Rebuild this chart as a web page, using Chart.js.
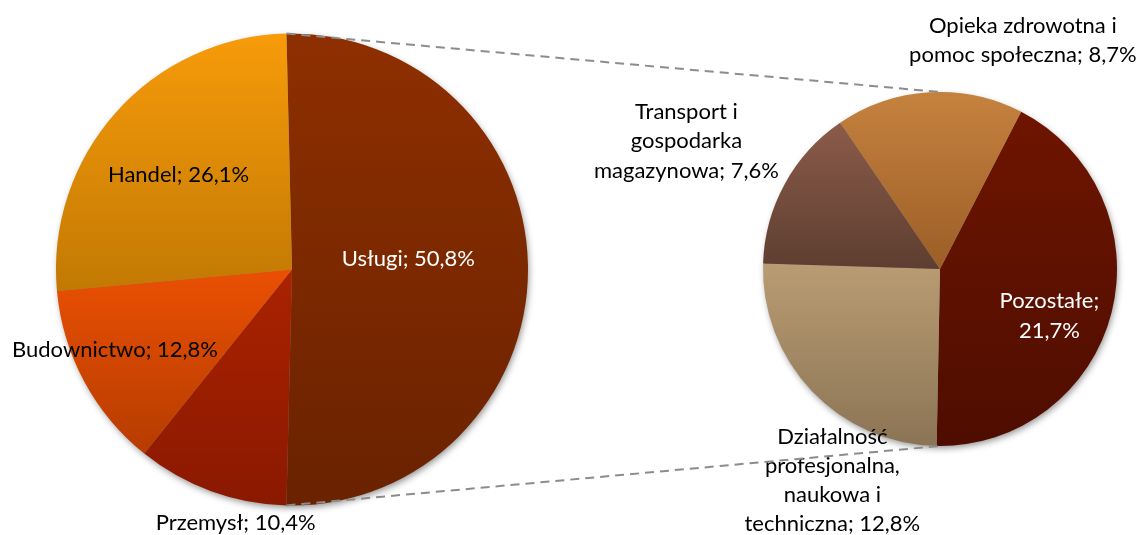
<!DOCTYPE html>
<html lang="pl">
<head>
<meta charset="utf-8">
<script src="https://cdn.jsdelivr.net/npm/chart.js@4/dist/chart.umd.min.js"></script>
<style>
    body { margin: 0; background: #fff; }
    .wrap { position: relative; width: 1137px; height: 535px; }
    .wrap canvas { position: absolute; left: 0; top: 0; }
</style>
</head>
<body>
<div class="wrap">
    <canvas id="mainPie" width="1137" height="535"></canvas>
    <canvas id="detailPie" width="1137" height="535"></canvas>
</div>
<script>
// Data: main pie and the split of "Usługi" shown in the second pie
const mainCategories = ['Usługi', 'Przemysł', 'Budownictwo', 'Handel'];
const mainValues = [50.8, 10.4, 12.8, 26.1];

const detailCategories = ['Pozostałe', 'Działalność profesjonalna, naukowa i techniczna', 'Transport i gospodarka magazynowa', 'Opieka zdrowotna i pomoc społeczna'];
const detailValues = [21.7, 12.8, 7.6, 8.7];

// Styles (top colour / bottom colour of each slice gradient)
const mainTop = ['#8e2f00', '#ab2200', '#ea5003', '#f79b0a'];
const mainBottom = ['#6a2200', '#8a1900', '#b63c00', '#c27903'];
const detailTop = ['#6e1500', '#b99c73', '#8b5b4a', '#c5823f'];
const detailBottom = ['#4e0d00', '#8b7455', '#5d3e30', '#9c5e27'];

const mainLabelColors = ['#fff', '#000', '#000', '#000'];
const detailLabelColors = ['#fff', '#000', '#000', '#000'];
// words per line for each label
const mainLabelWrap = [[3], [3], [3], [3]];
const detailLabelWrap = [[1, 1], [1, 1, 2, 2], [2, 1, 2], [3, 3]];
// label anchor (centre x, first baseline) relative to pie centre, in radii
const mainLabelPos = [[0.493, -0.016], [-0.239, 1.104], [-0.750, 0.369], [-0.481, -0.372]];
const detailLabelPos = [[0.618, 0.222], [-0.608, 0.986], [-1.433, -0.848], [0.468, -1.335]];

const FONT = '22px Lato';
const LINE_H = 29.3;

const fmt = v => v.toFixed(1).replace('.', ',') + '%';

// vertical gradient spanning only the slice's own extent
function sliceGradient(context, tops, bottoms) {
    const chart = context.chart;
    const area = chart.chartArea;
    const i = context.dataIndex;
    if (!area) return tops[i];
    const data = context.dataset.data;
    const total = data.reduce((a, b) => a + b, 0);
    const cx = (area.left + area.right) / 2;
    const cy = (area.top + area.bottom) / 2;
    const r = Math.min(area.width, area.height) / 2;
    let before = 0;
    for (let k = 0; k < i; k++) before += data[k];
    const a0 = chart.options.rotation + 360 * before / total;
    const a1 = a0 + 360 * data[i] / total;
    const ys = [cy];
    [a0, a1].forEach(a => ys.push(cy - r * Math.cos(a * Math.PI / 180)));
    for (let a = Math.ceil(a0 / 180) * 180; a <= a1; a += 180) {
        ys.push(cy - r * Math.cos(a * Math.PI / 180));
    }
    const y0 = Math.min(...ys), y1 = Math.max(...ys);
    const g = chart.ctx.createLinearGradient(0, y0, 0, y1);
    g.addColorStop(0, tops[i]);
    g.addColorStop(1, bottoms[i]);
    return g;
}

function wrapLabel(text, counts) {
    const words = text.split(' ');
    const lines = [];
    let pos = 0;
    counts.forEach(n => {
        lines.push(words.slice(pos, pos + n).join(' '));
        pos += n;
    });
    return lines;
}

// soft shadow under the pie, drawn before the slices
const pieShadow = {
    id: 'pieShadow',
    beforeDatasetsDraw(chart) {
        const arc = chart.getDatasetMeta(0).data[0];
        if (!arc) return;
        const { x, y, outerRadius } = arc.getProps(['x', 'y', 'outerRadius'], true);
        const c = chart.ctx;
        c.save();
        c.shadowColor = 'rgba(0,0,0,0.45)';
        c.shadowBlur = 7;
        c.shadowOffsetX = 1.5;
        c.shadowOffsetY = 3;
        c.fillStyle = '#888';
        c.beginPath();
        c.arc(x, y, outerRadius - 1, 0, Math.PI * 2);
        c.fill();
        c.restore();
    }
};

const sliceLabels = {
    id: 'sliceLabels',
    afterDatasetsDraw(chart, args, opts) {
        const meta = chart.getDatasetMeta(0);
        const arc = meta.data[0];
        if (!arc) return;
        const { x, y, outerRadius } = arc.getProps(['x', 'y', 'outerRadius'], true);
        const c = chart.ctx;
        c.save();
        c.font = FONT;
        c.textAlign = 'center';
        c.textBaseline = 'alphabetic';
        chart.data.labels.forEach((name, i) => {
            const value = chart.data.datasets[0].data[i];
            const lines = wrapLabel(name + '; ' + fmt(value), opts.wrap[i]);
            const px = x + opts.pos[i][0] * outerRadius;
            const py = y + opts.pos[i][1] * outerRadius;
            c.fillStyle = opts.colors[i];
            lines.forEach((ln, k) => c.fillText(ln, px, py + k * LINE_H));
        });
        c.restore();
    }
};

function pieConfig(labels, values, tops, bottoms, rotation, padding, labelOpts) {
    return {
        type: 'pie',
        data: {
            labels: labels,
            datasets: [{
                data: values,
                backgroundColor: ctx => sliceGradient(ctx, tops, bottoms),
                borderWidth: 0,
                hoverOffset: 0
            }]
        },
        options: {
            responsive: false,
            animation: false,
            rotation: rotation,
            layout: { padding: padding },
            events: [],
            plugins: {
                legend: { display: false },
                tooltip: { enabled: false },
                title: { display: false },
                sliceLabels: labelOpts
            }
        },
        plugins: [pieShadow, sliceLabels]
    };
}

// the main slice that gets split is centred on 3 o'clock
const mainRotation = 90 - 180 * mainValues[0] / mainValues.reduce((a, b) => a + b, 0);

document.fonts.load(FONT).then(() => {
    const mainChart = new Chart(document.getElementById('mainPie'), pieConfig(
        mainCategories, mainValues, mainTop, mainBottom, mainRotation,
        { left: 56, top: 33, right: 609, bottom: 29 },
        { colors: mainLabelColors, wrap: mainLabelWrap, pos: mainLabelPos }
    ));

    // dashed connectors from the split slice to the second pie
    const connectors = {
        id: 'connectors',
        afterDatasetsDraw(chart) {
            const src = mainChart.getDatasetMeta(0).data[0];
            const dst = chart.getDatasetMeta(0).data[0];
            if (!src || !dst) return;
            const s = src.getProps(['x', 'y', 'outerRadius', 'startAngle', 'endAngle'], true);
            const d = dst.getProps(['x', 'y', 'outerRadius'], true);
            const c = chart.ctx;
            c.save();
            c.strokeStyle = '#8c8c8c';
            c.lineWidth = 2;
            c.setLineDash([9, 6]);
            c.beginPath();
            c.moveTo(s.x + s.outerRadius * Math.cos(s.startAngle), s.y + s.outerRadius * Math.sin(s.startAngle));
            c.lineTo(d.x, d.y - d.outerRadius);
            c.moveTo(s.x + s.outerRadius * Math.cos(s.endAngle), s.y + s.outerRadius * Math.sin(s.endAngle));
            c.lineTo(d.x, d.y + d.outerRadius);
            c.stroke();
            c.restore();
        }
    };

    const cfg = pieConfig(
        detailCategories, detailValues, detailTop, detailBottom, 27.3,
        { left: 763, top: 92, right: 20, bottom: 89 },
        { colors: detailLabelColors, wrap: detailLabelWrap, pos: detailLabelPos }
    );
    cfg.plugins.push(connectors);
    new Chart(document.getElementById('detailPie'), cfg);
});
</script>
</body>
</html>
